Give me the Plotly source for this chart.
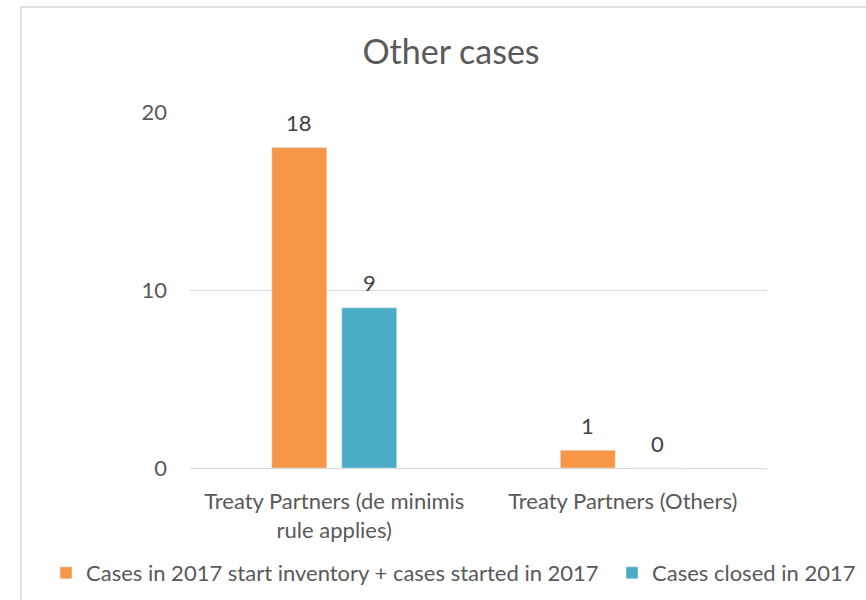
import plotly.graph_objects as go

categories = ["Treaty Partners (de minimis<br>rule applies)", "Treaty Partners (Others)"]
series_names = ["Cases in 2017 start inventory + cases started in 2017", "Cases closed in 2017"]
started = [18, 1]
closed = [9, 0]
colors = ["#F79646", "#4BACC6"]
y_ticks = [0, 10, 20]

FONT = "Lato"
FS = 22
W, H = 866, 600
L, R, T, B = 190, 767, 112, 468
pw, ph = R - L, B - T

bargap, bargroupgap = 0.515, 0.214
step = pw / len(categories)
slot = step * (1 - bargap) / 2

fig = go.Figure()
legends = ["legend", "legend2"]
for i, (name, vals, col) in enumerate(zip(series_names, [started, closed], colors)):
    fig.add_trace(go.Bar(
        x=categories, y=vals, name=name, marker_color=col,
        legend=legends[i], cliponaxis=False,
    ))
    # data labels, drawn at the bar's value through the axis scale
    xs = (i - 0.5) * slot
    for c, v in zip(categories, vals):
        fig.add_annotation(x=c, y=v, xref="x", yref="y", text=str(v), showarrow=False,
                           xshift=xs, yshift=25, yanchor="middle",
                           font=dict(size=FS, color="#404040", family=FONT))

fig.update_layout(
    width=W, height=H,
    margin=dict(l=L, r=W - R, t=T, b=H - B, autoexpand=False),
    paper_bgcolor="white", plot_bgcolor="white",
    barmode="group", bargap=bargap, bargroupgap=bargroupgap,
    font=dict(family=FONT, color="#595959", size=FS),
    title=dict(text="Other cases", x=451 / W, xref="container", xanchor="center",
               y=1 - 52 / H, yref="container", yanchor="middle",
               font=dict(size=34, color="#595959", family=FONT)),
    showlegend=True,
    legend=dict(orientation="h", x=(66 - 20) / W, xref="container", xanchor="left",
                y=1 - 573 / H, yref="container", yanchor="middle",
                font=dict(size=FS, color="#595959", family=FONT), itemwidth=30),
    legend2=dict(orientation="h", x=(632 - 20) / W, xref="container", xanchor="left",
                 y=1 - 573 / H, yref="container", yanchor="middle",
                 font=dict(size=FS, color="#595959", family=FONT), itemwidth=30),
)
fig.update_yaxes(range=[0, 20], tickvals=y_ticks, showgrid=True, gridcolor="#d9d9d9",
                 gridwidth=1, zeroline=False, showline=False, ticks="",
                 ticklabelstandoff=22, tickfont=dict(size=FS, color="#595959"))
fig.update_xaxes(showline=True, linecolor="#d9d9d9", linewidth=1, ticks="",
                 ticklabelstandoff=14, tickfont=dict(size=FS, color="#595959"))

# outer chart border
fig.add_shape(type="rect", xref="paper", yref="paper",
              x0=(21 - L) / pw, x1=(880 - L) / pw,
              y0=(B - 7) / ph, y1=(B - 610) / ph,
              line=dict(color="#d9d9d9", width=1.5), fillcolor="rgba(0,0,0,0)")

fig.write_html("out.html", config={"displayModeBar": False},
               post_script="document.body.style.margin='0';")
